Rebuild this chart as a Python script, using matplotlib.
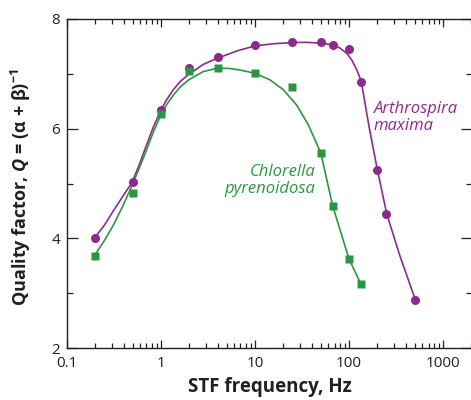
import numpy as np
import matplotlib
matplotlib.use('Agg')
import matplotlib.pyplot as plt
from matplotlib.ticker import LogLocator, FixedLocator, NullFormatter

plt.rcParams['font.family'] = ['Open Sans', 'DejaVu Sans']
plt.rcParams['mathtext.fontset'] = 'custom'
plt.rcParams['mathtext.rm'] = 'Open Sans:bold'
plt.rcParams['mathtext.it'] = 'Open Sans:italic:bold'

purple = '#8c2a8e'
green = '#2b9640'
dark = '#231f20'

# measured points
arth_f = [0.2, 0.5, 1, 2, 4, 10, 25, 50, 67, 100, 135, 200, 250, 500]
arth_q = [4.00, 5.02, 6.34, 7.10, 7.30, 7.53, 7.58, 7.58, 7.53, 7.46, 6.86, 5.25, 4.45, 2.88]
chlo_f = [0.2, 0.5, 1, 2, 4, 10, 25, 50, 67, 100, 135]
chlo_q = [3.68, 4.83, 6.26, 7.05, 7.11, 7.02, 6.76, 5.56, 4.59, 3.62, 3.16]

# fitted curves
arth_fit_f = [0.195, 0.25, 0.311, 0.39, 0.488, 0.58, 0.69, 0.82, 0.977, 1.15, 1.35, 1.6, 1.97,
              2.8, 3.9, 6.5, 10, 16, 24.9, 35, 49.3, 67, 80, 95, 107, 121, 135, 163,
              200, 252, 349, 507]
arth_fit_q = [4.00, 4.24, 4.50, 4.76, 5.01, 5.32, 5.67, 6.01, 6.31, 6.53, 6.71, 6.86, 6.99,
              7.17, 7.28, 7.42, 7.51, 7.55, 7.57, 7.575, 7.56, 7.53, 7.47, 7.37, 7.25, 7.07, 6.86, 6.04,
              5.25, 4.44, 3.67, 2.88]
chlo_fit_f = [0.195, 0.25, 0.311, 0.39, 0.488, 0.58, 0.69, 0.82, 0.977, 1.15, 1.35, 1.6, 1.97,
              2.8, 3.9, 5.2, 6.9, 10, 14.4, 20, 27.7, 36.9, 50, 67, 100, 135]
chlo_fit_q = [3.68, 3.96, 4.24, 4.58, 4.95, 5.26, 5.58, 5.92, 6.22, 6.44, 6.61, 6.76, 6.89,
              7.04, 7.10, 7.10, 7.07, 7.01, 6.89, 6.71, 6.43, 6.07, 5.56, 4.59, 3.62, 3.15]

fig = plt.figure(figsize=(4.71, 4.0), dpi=100)
ax = fig.add_axes([67 / 471, 52 / 400, 405 / 471, 329 / 400])

ax.plot(arth_fit_f, arth_fit_q, color=purple, lw=1.2, solid_joinstyle='round')
ax.plot(chlo_fit_f, chlo_fit_q, color=green, lw=1.2, solid_joinstyle='round')
ax.plot(arth_f, arth_q, 'o', color=purple, ms=6.5, mec='none')
ax.plot(chlo_f, chlo_q, 's', color=green, ms=5.3, mec='none')

ax.set_xscale('log')
ax.set_xlim(0.1, 2030)
ax.set_ylim(2, 8)

ax.xaxis.set_major_locator(FixedLocator([0.1, 1, 10, 100, 1000]))
ax.set_xticklabels(['0.1', '1', '10', '100', '1000'])
ax.xaxis.set_minor_locator(LogLocator(base=10, subs=np.arange(2, 10)))
ax.xaxis.set_minor_formatter(NullFormatter())
ax.set_yticks([2, 4, 6, 8])
ax.set_yticks([3, 5, 7], minor=True)

ax.tick_params(axis='x', which='major', direction='in', length=6, width=0.9,
               top=True, labelsize=11, colors=dark, pad=6)
ax.tick_params(axis='x', which='minor', direction='in', length=3.6, width=0.9, top=True, colors=dark)
ax.tick_params(axis='y', which='major', direction='in', length=8, width=0.9,
               right=True, labelsize=11, colors=dark, pad=5)
ax.tick_params(axis='y', which='minor', direction='in', length=4.5, width=0.9, right=True, colors=dark)
for s in ax.spines.values():
    s.set_linewidth(1.0)
    s.set_color(dark)

ax.set_xlabel('STF frequency, Hz', fontsize=13.5, fontweight='bold', color=dark, labelpad=4)
ax.set_ylabel('Quality factor, $Q$ = (α + β)$^{−1}$', fontsize=13, fontweight='bold',
              color=dark)
ax.yaxis.set_label_coords(-0.083, 0.488)

ax.text(43.5, 5.06, 'Chlorella\npyrenoidosa', color=green, fontsize=12, style='italic',
        ha='right', va='center', linespacing=1.05)
ax.text(184, 6.2, 'Arthrospira\nmaxima', color=purple, fontsize=12, style='italic',
        ha='left', va='center', linespacing=1.05)

fig.savefig('out.png', dpi=100)
